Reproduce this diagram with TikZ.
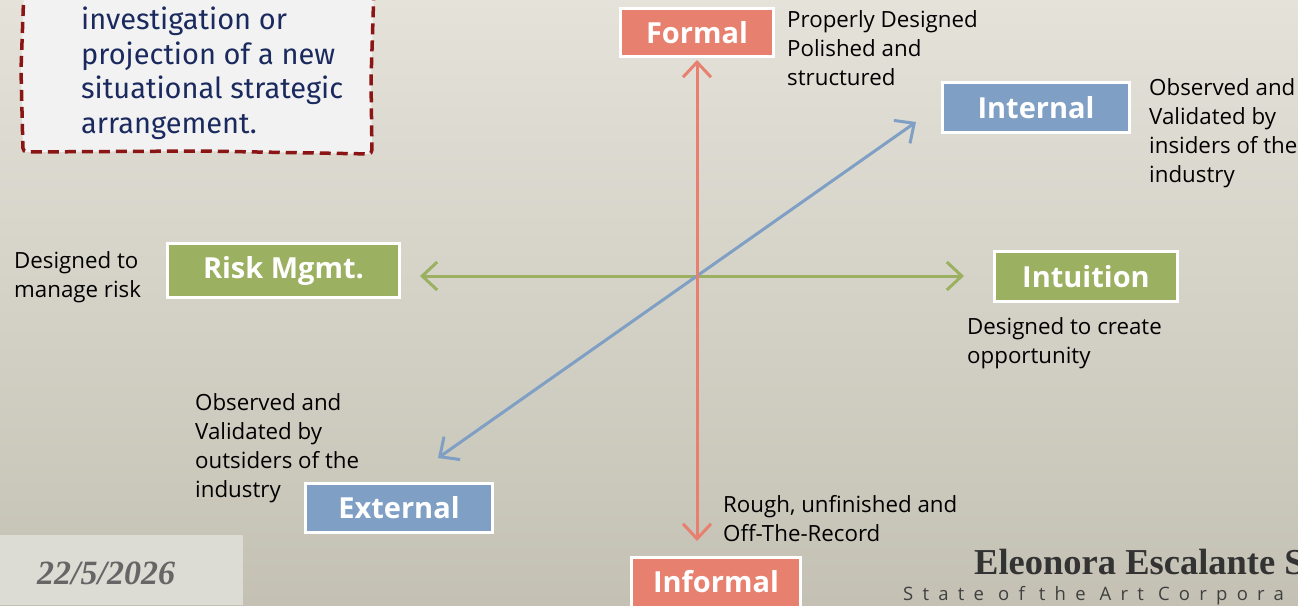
\documentclass[tikz,border=0pt]{standalone}
\usepackage{fontspec}
\setmainfont{Open Sans}
\newfontfamily\notefont{Fira Sans}
\newfontfamily\footserif{Liberation Serif}
\newfontfamily\footsans[LetterSpace=50]{Open Sans}
\usetikzlibrary{arrows.meta}

\definecolor{bgtop}{HTML}{E4E2D9}
\definecolor{bgbot}{HTML}{C4C1B4}
\definecolor{datepanel}{HTML}{DCDBD4}
\definecolor{salmon}{HTML}{E8806F}
\definecolor{steel}{HTML}{7F9FC4}
\definecolor{olive}{HTML}{9BB060}
\definecolor{notered}{HTML}{8B1414}
\definecolor{noteink}{HTML}{1B2A5E}
\definecolor{notefill}{HTML}{F2F2F2}

\tikzset{
  tag/.style={draw=white, line width=3pt, inner sep=0pt, text=white,
    font=\fontsize{29}{34}\selectfont\bfseries},
  desc/.style={anchor=north west, inner sep=0pt, align=left, text=black,
    font=\fontsize{22.3}{29}\selectfont},
  axis/.style={line width=3pt,
    {Straight Barb[length=15pt,width=28pt]}-{Straight Barb[length=15pt,width=28pt]}},
}

\begin{document}
\begin{tikzpicture}[x=1pt,y=-1pt]
\useasboundingbox (0,0) rectangle (1298,605);
\clip (0,0) rectangle (1298,605);

% backdrop
\shade[top color=bgtop, bottom color=bgbot] (0,0) rectangle (1298,605);
\fill[datepanel] (0,535) rectangle (243,605);

% handwritten note card
\draw[notered, fill=notefill, line width=3.5pt, dash pattern=on 11pt off 6pt,
      rounded corners=4pt]
  (24,-12) -- (21,70) -- (23,152) -- (200,151) -- (372,154) -- (371,80) -- (374,-12);
\node[anchor=north west, inner sep=0pt, align=left, text=noteink,
      font=\notefont\fontsize{29}{34.5}\selectfont] (note) at (81,7)
  {investigation or\\projection of a new\\situational strategic\\arrangement.};

% category boxes
\node[tag, fill=salmon, minimum width=153pt, minimum height=48pt] (formal) at (697,32.5) {Formal};
\node[tag, fill=salmon, minimum width=169pt, minimum height=50pt] (informal) at (716,582) {Informal};
\node[tag, fill=steel, minimum width=187pt, minimum height=50pt] (internal) at (1036,107.5) {Internal};
\node[tag, fill=steel, minimum width=187pt, minimum height=49pt] (external) at (399,508) {External};
\node[tag, fill=olive, minimum width=232pt, minimum height=54pt] (risk) at (283.5,270.5) {Risk Mgmt.};
\node[tag, fill=olive, minimum width=183pt, minimum height=50pt] (intuition) at (1086,276.5) {Intuition};

% descriptions
\node[desc] (dformal) at (787,10) {Properly Designed\\Polished and\\structured};
\node[desc] (dinternal) at (1149,78) {Observed and\\Validated by\\insiders of the\\industry};
\node[desc] (drisk) at (14,251) {Designed to\\manage risk};
\node[desc] (dintuition) at (967,317) {Designed to create\\opportunity};
\node[desc] (dexternal) at (195,393) {Observed and\\Validated by\\outsiders of the\\industry};
\node[desc] (dinformal) at (723,495) {Rough, unfinished and\\Off-The-Record};

% axis end points
\coordinate (upTip) at (697,60);
\coordinate (downTip) at (697,541);
\coordinate (leftTip) at (420,276);
\coordinate (rightTip) at (964,276);
\coordinate (neTip) at (916,122);
\coordinate (swTip) at (438,458);

\draw[axis, olive] (leftTip) -- (rightTip);
\draw[axis, steel] (swTip) -- (neTip);
\draw[axis, salmon] (downTip) -- (upTip);

% footer
\node[anchor=base west, inner sep=0pt, text=black!60,
      font=\footserif\fontsize{34}{38}\selectfont\bfseries\itshape] (date) at (37,584) {22/5/2026};
\node[anchor=base west, inner sep=0pt, text=black!80,
      font=\footserif\fontsize{36.5}{40}\selectfont\bfseries] (author) at (974,574) {Eleonora Escalante S};
\node[anchor=base west, inner sep=0pt, text=black!75,
      font=\footsans\fontsize{18.5}{20}\selectfont] (firm) at (903,600) {State of the Art Corpora};
\end{tikzpicture}
\end{document}
